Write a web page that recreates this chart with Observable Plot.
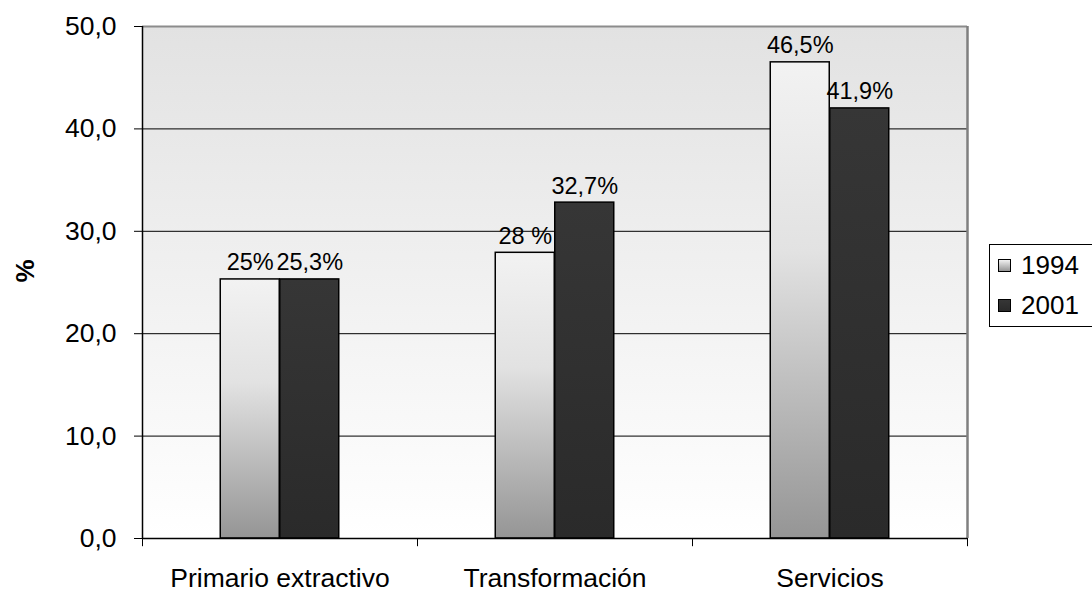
<!DOCTYPE html>
<html>
<head>
<meta charset="utf-8">
<script src="https://cdn.jsdelivr.net/npm/d3@7"></script>
<script src="https://cdn.jsdelivr.net/npm/@observablehq/plot@0.6"></script>
<style>
  html, body { margin: 0; padding: 0; background: #fff; overflow: hidden; }
  #wrap { position: relative; width: 1092px; height: 593px; overflow: hidden; font-family: "Liberation Sans", Arial, sans-serif; }
  #legend { position: absolute; left: 989px; top: 244px; width: 200px; height: 83px; border: 1px solid #000; background: #fff; box-sizing: border-box; }
  .item { position: absolute; left: 8px; display: flex; align-items: center; font-size: 26px; line-height: 26px; color: #000; }
  .sw { width: 11px; height: 11px; border: 1px solid #000; margin-right: 10px; }
</style>
</head>
<body>
<div id="wrap"></div>
<script>
const categories = ["Primario extractivo", "Transformación", "Servicios"];
const years = ["1994", "2001"];
const values1994 = [25.3, 27.9, 46.5];
const values2001 = [25.3, 32.8, 42.0];
const labels1994 = ["25%", "28 %", "46,5%"];
const labels2001 = ["25,3%", "32,7%", "41,9%"];
const yTicks = [0, 10, 20, 30, 40, 50];
const gridTicks = [10, 20, 30, 40];

const d1994 = categories.map((c, i) => ({cat: c, value: values1994[i], label: labels1994[i]}));
const d2001 = categories.map((c, i) => ({cat: c, value: values2001[i], label: labels2001[i]}));

const half = 137.5;      // half band width
const barInset = 108;    // inset so each bar is ~59.5px
const shift = 29.75;     // offset of each bar from band center

const chart = Plot.plot({
  width: 1092,
  height: 593,
  marginLeft: 142,
  marginRight: 125,
  marginTop: 26,
  marginBottom: 55,
  style: {fontFamily: "Liberation Sans, Arial, sans-serif", fontSize: "26.5px", background: "transparent", color: "#000"},
  x: {domain: categories, padding: 0, tickSize: 0, tickPadding: 30, label: null},
  y: {domain: [0, 50], ticks: yTicks, tickSize: 8, tickPadding: 18, tickFormat: d => d.toFixed(1).replace(".", ","), label: null},
  marks: [
    Plot.frame({fill: "url(#bgGrad)", stroke: "none"}),
    Plot.ruleY(gridTicks, {stroke: "#000", strokeWidth: 1}),
    Plot.ruleY([50], {stroke: "#8c8c8c", strokeWidth: 2}),
    Plot.barY(d1994, {x: "cat", y: "value", insetLeft: barInset, insetRight: barInset, dx: -shift, fill: "url(#g1994)", stroke: "#000", strokeWidth: 1.5}),
    Plot.barY(d2001, {x: "cat", y: "value", insetLeft: barInset, insetRight: barInset, dx: shift, fill: "url(#g2001)", stroke: "#000", strokeWidth: 1.5}),
    Plot.text(d1994, {x: "cat", y: "value", text: "label", dx: -shift, dy: -9, lineAnchor: "bottom", fontSize: 23.5, fill: "#000"}),
    Plot.text(d2001, {x: "cat", y: "value", text: "label", dx: shift, dy: -9, lineAnchor: "bottom", fontSize: 23.5, fill: "#000"}),
    // right border of plot area
    Plot.ruleX([categories[categories.length - 1]], {dx: half, y1: 0, y2: 50, stroke: "#7f7f7f", strokeWidth: 2.5}),
    // category separator ticks below the axis
    Plot.ruleX(categories, {dx: -half, y1: 0, y2: -0.8, stroke: "#000", strokeWidth: 1}),
    Plot.ruleX([categories[categories.length - 1]], {dx: half, y1: 0, y2: -0.8, stroke: "#000", strokeWidth: 1}),
    // left axis line
    Plot.ruleX([categories[0]], {dx: -half, y1: 0, y2: 50, stroke: "#000", strokeWidth: 1.5}),
    Plot.ruleY([0], {stroke: "#000", strokeWidth: 1.5}),
    Plot.text(["%"], {frameAnchor: "left", dx: -117, rotate: -90, fontWeight: "bold", fontSize: 26, fill: "#000"})
  ]
});

const svg = d3.select(chart);
const defs = svg.insert("defs", ":first-child");
const bg = defs.append("linearGradient").attr("id", "bgGrad").attr("x1", 0).attr("y1", 0).attr("x2", 0).attr("y2", 1);
bg.append("stop").attr("offset", "0%").attr("stop-color", "#e2e2e2");
bg.append("stop").attr("offset", "100%").attr("stop-color", "#ffffff");
const g1 = defs.append("linearGradient").attr("id", "g1994").attr("x1", 0).attr("y1", 0).attr("x2", 0).attr("y2", 1);
g1.append("stop").attr("offset", "0%").attr("stop-color", "#f2f2f2");
g1.append("stop").attr("offset", "40%").attr("stop-color", "#e2e2e2");
g1.append("stop").attr("offset", "100%").attr("stop-color", "#959595");
const g2 = defs.append("linearGradient").attr("id", "g2001").attr("x1", 0).attr("y1", 0).attr("x2", 0).attr("y2", 1);
g2.append("stop").attr("offset", "0%").attr("stop-color", "#363636");
g2.append("stop").attr("offset", "100%").attr("stop-color", "#2a2a2a");

const wrap = document.getElementById("wrap");
wrap.appendChild(chart);

const legend = document.createElement("div");
legend.id = "legend";
const swatchFills = ["linear-gradient(#f2f2f2, #959595)", "linear-gradient(#363636, #2a2a2a)"];
const tops = [7, 47];
years.forEach((y, i) => {
  const item = document.createElement("div");
  item.className = "item";
  item.style.top = tops[i] + "px";
  const sw = document.createElement("div");
  sw.className = "sw";
  sw.style.background = swatchFills[i];
  const t = document.createElement("span");
  t.textContent = y;
  item.appendChild(sw);
  item.appendChild(t);
  legend.appendChild(item);
});
wrap.appendChild(legend);
chart.style.position = "absolute";
chart.style.left = "0";
chart.style.top = "0";
</script>
</body>
</html>
